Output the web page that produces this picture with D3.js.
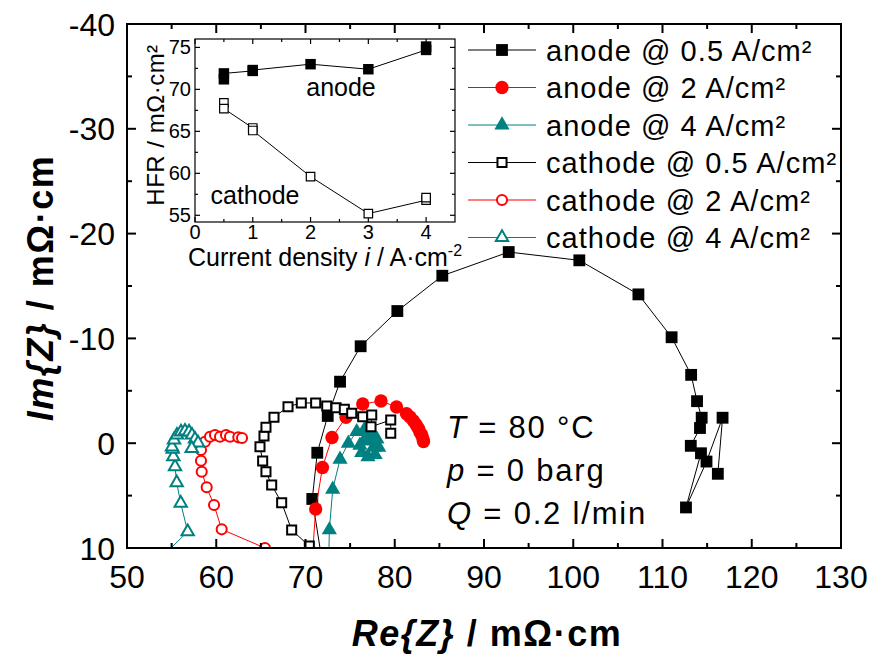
<!DOCTYPE html>
<html lang="en">
<head>
  <meta charset="UTF-8">
  <title>Nyquist plot: anode vs cathode impedance</title>
  <script src="https://d3js.org/d3.v7.min.js"></script>
  <style>
    body {
      margin: 0;
      background: #fff;
      font-family: "Liberation Sans", Arial, sans-serif;
    }
    svg text { fill: #000; }
  </style>
</head>
<body>
  <svg id="chart" width="887" height="660"></svg>

  <script>
    // Nyquist data, [Re{Z}, Im{Z}] in mOhm*cm
    const anode05 = [
      [71.84, 11.15], [70.76, 5.32], [71.32, 0.91], [72.49, -2.60], [73.87, -5.87],
      [76.18, -9.25], [80.29, -12.61], [85.33, -15.98], [92.77, -18.24], [100.68, -17.45],
      [107.30, -14.20], [111.02, -10.11], [113.21, -6.52], [113.87, -4.01], [114.39, -2.43],
      [114.20, -1.45], [113.17, 0.25], [114.31, 0.96], [112.63, 6.13], [114.93, 1.75],
      [116.73, -2.43], [116.20, 2.92]
    ];
    const anode2 = [
      [70.75, 11.15], [71.14, 6.28], [71.90, 2.32], [72.97, -0.54], [74.54, -2.47],
      [76.41, -3.74], [78.46, -4.03], [80.20, -3.45], [81.32, -2.81], [81.71, -2.50],
      [82.08, -2.15], [82.38, -1.78], [82.64, -1.42], [82.82, -1.07], [83.02, -0.78],
      [83.17, -0.40], [83.22, -0.16]
    ];
    const anode4 = [
      [72.61, 11.15], [72.67, 8.28], [73.05, 4.40], [73.87, 1.54], [74.80, 0.01],
      [75.74, -1.10], [76.6, -1.3], [77.4, -1.0], [78.0, -0.4], [78.2, 0.4],
      [77.8, 1.1], [77.0, 1.3], [76.3, 0.9], [76.1, 0.2], [76.6, -0.3],
      [77.3, -0.2], [77.6, 0.4]
    ];
    const cathode05 = [
      [70.43, 9.81], [68.45, 8.28], [67.33, 5.68], [66.21, 3.99], [65.57, 2.72],
      [65.20, 1.70], [64.90, 0.33], [65.35, -0.69], [65.57, -1.52], [66.47, -2.47],
      [68.04, -3.48], [69.53, -3.84], [71.14, -3.84], [72.38, -3.55], [73.42, -3.39],
      [74.35, -3.23], [75.18, -2.85], [76.41, -2.53], [77.42, -2.69], [77.34, -1.57],
      [79.55, -2.21], [79.55, -0.95]
    ];
    const cathode2 = [
      [65.46, 10.0], [60.61, 8.22], [59.75, 5.90], [58.93, 4.21], [58.37, 2.72],
      [58.29, 1.67], [58.29, 0.65], [58.74, -0.14], [59.30, -0.62], [59.86, -0.78],
      [60.42, -0.62], [61.09, -0.78], [61.54, -0.62], [62.47, -0.56], [62.89, -0.50]
    ];
    const cathode4 = [
      [53.55, 11.15], [56.80, 8.44], [56.02, 5.73], [55.57, 3.77], [55.38, 2.24],
      [55.19, 1.29], [55.12, 0.58], [55.04, 0.36], [55.27, -0.31], [55.60, -0.78],
      [56.05, -1.07], [56.50, -1.16], [56.95, -1.07], [57.28, -0.78], [57.62, -0.40],
      [57.96, -0.02], [57.25, 0.49]
    ];

    // inset: high frequency resistance vs current density
    const hfrCurrent = [0.5, 0.5, 1, 1, 2, 3, 4, 4];
    const hfrAnode = [71.2, 71.9, 72.2, 72.3, 73.0, 72.4, 74.7, 75.1];
    const hfrCathode = [68.4, 67.7, 65.4, 65.1, 59.6, 55.2, 56.8, 57.1];

    const series = [
      { name: "anode @ 0.5 A/cm²", data: anode05, color: "#000", shape: "square", open: false },
      { name: "anode @ 2 A/cm²", data: anode2, color: "#ff0000", shape: "circle", open: false },
      { name: "anode @ 4 A/cm²", data: anode4, color: "#008080", shape: "triangle", open: false },
      { name: "cathode @ 0.5 A/cm²", data: cathode05, color: "#000", shape: "square", open: true },
      { name: "cathode @ 2 A/cm²", data: cathode2, color: "#ff0000", shape: "circle", open: true },
      { name: "cathode @ 4 A/cm²", data: cathode4, color: "#008080", shape: "triangle", open: true }
    ];

    const svg = d3.select("#chart");
    const font = "'Liberation Sans', Arial, sans-serif";

    const pL = 127, pR = 841, pT = 24, pB = 548;
    const x = d3.scaleLinear().domain([50, 130]).range([pL, pR]);
    const y = d3.scaleLinear().domain([10, -40]).range([pB, pT]);

    const symbolOf = (shape, size) => {
      const t = shape === "square" ? d3.symbolSquare : shape === "circle" ? d3.symbolCircle : d3.symbolTriangle;
      return d3.symbol().type(t).size(size)();
    };
    const markerSize = { square: 140, circle: 140, triangle: 100 };
    const openSize = { square: 82, circle: 80, triangle: 66 };

    svg.append("clipPath").attr("id", "plotClip")
      .append("rect").attr("x", pL).attr("y", pT)
      .attr("width", pR - pL).attr("height", pB - pT);

    const plot = svg.append("g").attr("clip-path", "url(#plotClip)");
    const line = d3.line().x(d => x(d[0])).y(d => y(d[1]));

    series.forEach(s => {
      plot.append("path")
        .attr("d", line(s.data))
        .attr("fill", "none")
        .attr("stroke", s.color)
        .attr("stroke-width", 1);
      plot.selectAll(null)
        .data(s.data)
        .enter()
        .append("path")
        .attr("transform", d => `translate(${x(d[0])},${y(d[1])})`)
        .attr("d", symbolOf(s.shape, s.open ? openSize[s.shape] : markerSize[s.shape]))
        .attr("fill", s.open ? "#fff" : s.color)
        .attr("stroke", s.color)
        .attr("stroke-width", s.open ? 2 : 0);
    });

    // frame + inward ticks on all four sides
    const addTicks = (g, sc, values, len, side, x0, y0, x1, y1) => {
      values.forEach(v => {
        const p = sc(v);
        if (side === "bottom") g.append("line").attr("x1", p).attr("x2", p).attr("y1", y1).attr("y2", y1 - len);
        if (side === "top") g.append("line").attr("x1", p).attr("x2", p).attr("y1", y0).attr("y2", y0 + len);
        if (side === "left") g.append("line").attr("y1", p).attr("y2", p).attr("x1", x0).attr("x2", x0 + len);
        if (side === "right") g.append("line").attr("y1", p).attr("y2", p).attr("x1", x1).attr("x2", x1 - len);
      });
    };

    const axes = svg.append("g").attr("stroke", "#000").attr("stroke-width", 2);
    axes.append("rect").attr("x", pL).attr("y", pT)
      .attr("width", pR - pL).attr("height", pB - pT).attr("fill", "none");
    const xMajor = d3.range(50, 131, 10), xMinor = d3.range(55, 130, 10);
    const yMajor = d3.range(-40, 11, 10), yMinor = d3.range(-35, 10, 10);
    ["bottom", "top"].forEach(sd => {
      addTicks(axes, x, xMajor, 9, sd, pL, pT, pR, pB);
      addTicks(axes, x, xMinor, 5, sd, pL, pT, pR, pB);
    });
    ["left", "right"].forEach(sd => {
      addTicks(axes, y, yMajor, 9, sd, pL, pT, pR, pB);
      addTicks(axes, y, yMinor, 5, sd, pL, pT, pR, pB);
    });

    svg.append("g").selectAll("text").data(xMajor).enter().append("text")
      .attr("x", d => x(d)).attr("y", pB + 40)
      .attr("text-anchor", "middle").attr("font-family", font).attr("font-size", 32)
      .text(d => d);
    svg.append("g").selectAll("text").data(yMajor).enter().append("text")
      .attr("x", pL - 12).attr("y", d => y(d) + 11.5)
      .attr("text-anchor", "end").attr("font-family", font).attr("font-size", 32)
      .text(d => d);

    const xTitle = svg.append("text")
      .attr("x", 487).attr("y", 646)
      .attr("text-anchor", "middle").attr("font-family", font)
      .attr("font-size", 36).attr("font-weight", "bold").attr("letter-spacing", 1.5);
    xTitle.append("tspan").attr("font-style", "italic").text("Re{Z}");
    xTitle.append("tspan").text(" / mΩ·cm");

    const yTitle = svg.append("text")
      .attr("transform", "translate(53,288) rotate(-90)")
      .attr("text-anchor", "middle").attr("font-family", font)
      .attr("font-size", 36).attr("font-weight", "bold").attr("letter-spacing", 1.5);
    yTitle.append("tspan").attr("font-style", "italic").text("Im{Z}");
    yTitle.append("tspan").text(" / mΩ·cm");

    // operating conditions
    const cond = [["T", " = 80 °C"], ["p", " = 0 barg"], ["Q", " = 0.2 l/min"]];
    cond.forEach((c, i) => {
      const t = svg.append("text").attr("x", 447).attr("y", 438 + i * 43)
        .attr("font-family", font).attr("font-size", 31).attr("letter-spacing", 1.8);
      t.append("tspan").attr("font-style", "italic").text(c[0]);
      t.append("tspan").text(c[1]);
    });

    // legend
    const legend = svg.append("g");
    series.forEach((s, i) => {
      const ly = 50 + i * 37.5;
      legend.append("line").attr("x1", 468).attr("x2", 536).attr("y1", ly).attr("y2", ly)
        .attr("stroke", s.color).attr("stroke-width", 1);
      legend.append("path")
        .attr("transform", `translate(502,${ly})`)
        .attr("d", symbolOf(s.shape, s.open ? openSize[s.shape] : markerSize[s.shape]))
        .attr("fill", s.open ? "#fff" : s.color)
        .attr("stroke", s.color).attr("stroke-width", s.open ? 2 : 0);
      legend.append("text").attr("x", 546).attr("y", ly + 10.5)
        .attr("font-family", font).attr("font-size", 29).attr("letter-spacing", 1.05)
        .text(s.name);
    });

    // inset
    const iL = 195, iR = 455, iT = 39, iB = 222;
    const ix = d3.scaleLinear().domain([0, 4.5]).range([iL, iR]);
    const iy = d3.scaleLinear().domain([54.2, 76]).range([iB, iT]);
    const inset = svg.append("g");
    const iAxes = inset.append("g").attr("stroke", "#000").attr("stroke-width", 1.2);
    iAxes.append("rect").attr("x", iL).attr("y", iT).attr("width", iR - iL).attr("height", iB - iT)
      .attr("fill", "none");
    const ixMajor = [0, 1, 2, 3, 4], ixMinor = [0.5, 1.5, 2.5, 3.5];
    const iyMajor = [55, 60, 65, 70, 75], iyMinor = [57.5, 62.5, 67.5, 72.5];
    ["bottom", "top"].forEach(sd => {
      addTicks(iAxes, ix, ixMajor, 5, sd, iL, iT, iR, iB);
      addTicks(iAxes, ix, ixMinor, 3, sd, iL, iT, iR, iB);
    });
    ["left", "right"].forEach(sd => {
      addTicks(iAxes, iy, iyMajor, 5, sd, iL, iT, iR, iB);
      addTicks(iAxes, iy, iyMinor, 3, sd, iL, iT, iR, iB);
    });

    const iline = d3.line().x((d, i) => ix(hfrCurrent[i])).y(d => iy(d));
    [[hfrAnode, false], [hfrCathode, true]].forEach(([vals, open]) => {
      inset.append("path").attr("d", iline(vals))
        .attr("fill", "none").attr("stroke", "#000").attr("stroke-width", 1);
      inset.selectAll(null).data(vals).enter().append("path")
        .attr("transform", (d, i) => `translate(${ix(hfrCurrent[i])},${iy(d)})`)
        .attr("d", d3.symbol().type(d3.symbolSquare).size(open ? 72 : 110)())
        .attr("fill", open ? "#fff" : "#000")
        .attr("stroke", "#000").attr("stroke-width", open ? 1.2 : 0);
    });

    inset.append("g").selectAll("text").data(ixMajor).enter().append("text")
      .attr("x", d => ix(d)).attr("y", iB + 17)
      .attr("text-anchor", "middle").attr("font-family", font).attr("font-size", 20)
      .text(d => d);
    inset.append("g").selectAll("text").data(iyMajor).enter().append("text")
      .attr("x", iL - 4).attr("y", d => iy(d) + 7)
      .attr("text-anchor", "end").attr("font-family", font).attr("font-size", 20)
      .text(d => d);

    const ixTitle = inset.append("text").attr("x", 325).attr("y", 266)
      .attr("text-anchor", "middle").attr("font-family", font).attr("font-size", 25);
    ixTitle.append("tspan").text("Current density ");
    ixTitle.append("tspan").attr("font-style", "italic").text("i");
    ixTitle.append("tspan").text(" / A·cm");
    ixTitle.append("tspan").attr("dy", -10).attr("font-size", 16).text("-2");

    inset.append("text")
      .attr("transform", "translate(164,125) rotate(-90)")
      .attr("text-anchor", "middle").attr("font-family", font).attr("font-size", 24)
      .attr("letter-spacing", 0.5)
      .text("HFR / mΩ·cm²");

    inset.append("text").attr("x", 341).attr("y", 96).attr("text-anchor", "middle")
      .attr("font-family", font).attr("font-size", 25).text("anode");
    inset.append("text").attr("x", 255).attr("y", 204).attr("text-anchor", "middle")
      .attr("font-family", font).attr("font-size", 25).text("cathode");
  </script>
</body>
</html>
